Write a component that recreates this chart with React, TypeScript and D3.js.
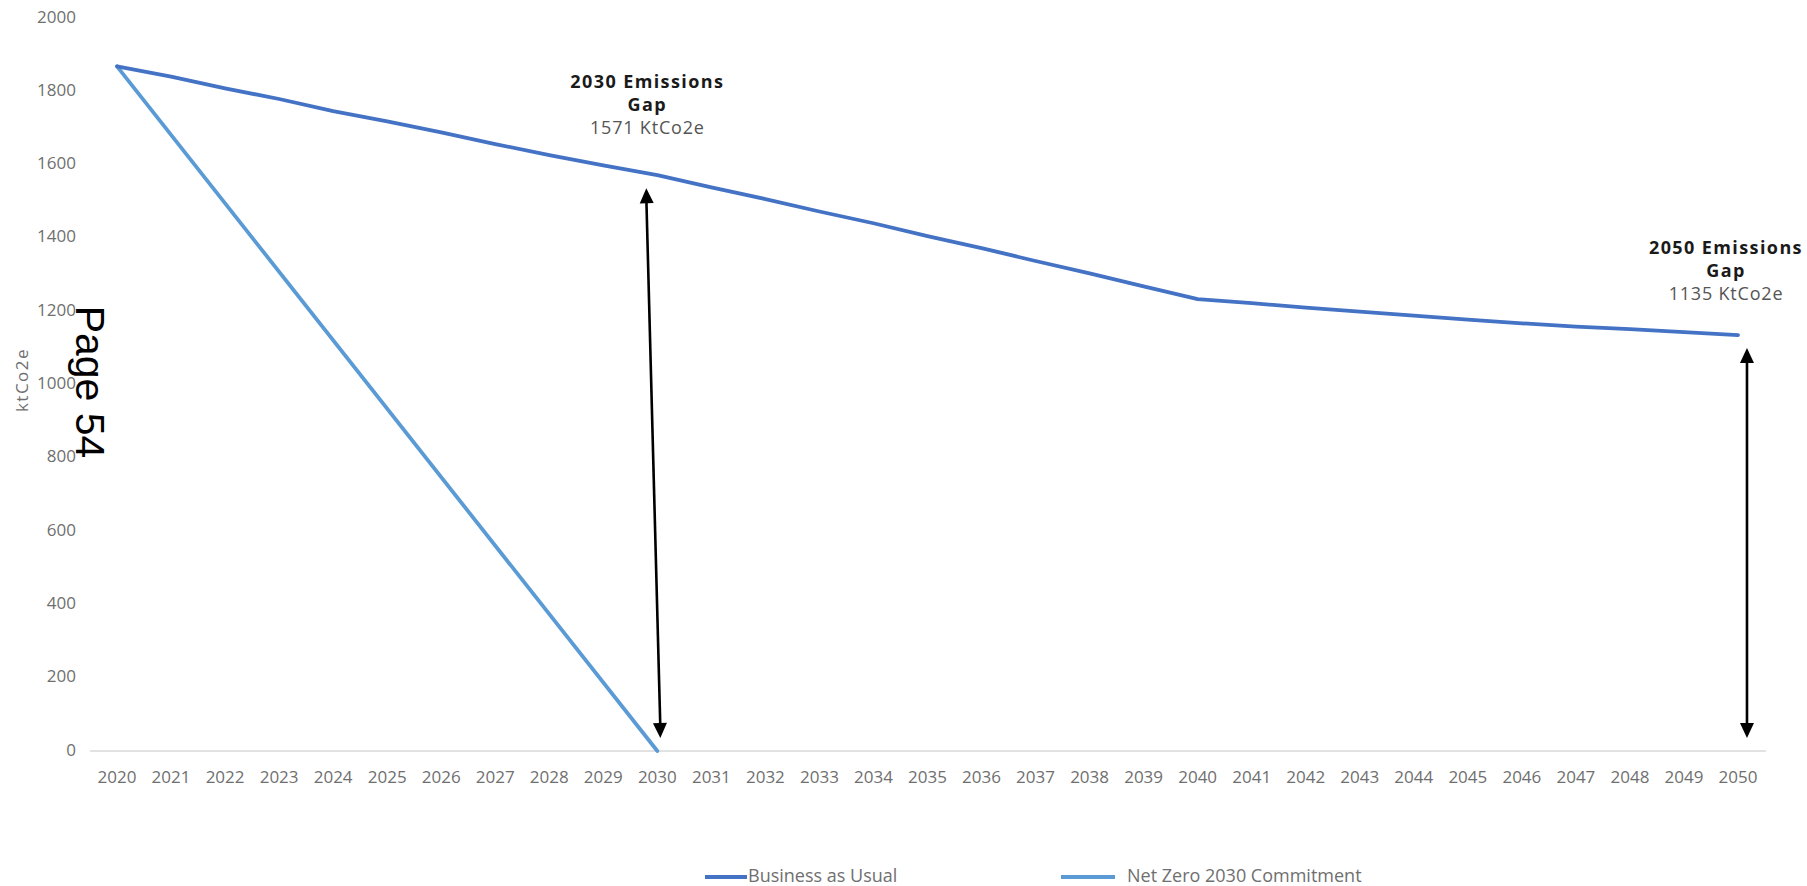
import React from "react";
import * as d3 from "d3";

// Emission trajectories, ktCO2e per year
const years: string[] = [
  "2020", "2021", "2022", "2023", "2024", "2025", "2026", "2027", "2028", "2029",
  "2030", "2031", "2032", "2033", "2034", "2035", "2036", "2037", "2038", "2039",
  "2040", "2041", "2042", "2043", "2044", "2045", "2046", "2047", "2048", "2049", "2050",
];

const businessAsUsual: number[] = [
  1868, 1840, 1808, 1779, 1746, 1718, 1688, 1656, 1626, 1598,
  1571, 1538, 1506, 1472, 1440, 1405, 1372, 1337, 1303, 1268,
  1233, 1222, 1210, 1199, 1188, 1177, 1167, 1158, 1151, 1143, 1135,
];

const netZeroYears: string[] = ["2020", "2030"];
const netZero: number[] = [1868, 0];

const yTicks: number[] = [0, 200, 400, 600, 800, 1000, 1200, 1400, 1600, 1800, 2000];

// Gap annotations: year, upper value, lower value
const gapYears: string[] = ["2030", "2050"];
const gapValues: number[] = [1571, 1135];
const gapTitles: string[] = ["2030 Emissions", "2050 Emissions"];

const W = 1807;
const H = 886;
const FONT = "'Open Sans', 'DejaVu Sans', sans-serif";
const BAU_COLOR = "#4472c4";
const NZ_COLOR = "#5b9bd5";

export default function App() {
  const x = d3.scalePoint<string>().domain(years).range([90, 1765]).padding(0.5);
  const y = d3.scaleLinear().domain([0, 2000]).range([751, 18]);

  const line = d3
    .line<[string, number]>()
    .x((d) => x(d[0]) as number)
    .y((d) => y(d[1]));

  const bauPath = line(years.map((yr, i) => [yr, businessAsUsual[i]] as [string, number]));
  const nzPath = line(netZeroYears.map((yr, i) => [yr, netZero[i]] as [string, number]));

  const arrowHead = (tipX: number, tipY: number, dir: number, angle = 0) => {
    const len = 15;
    const half = 7;
    const pts = [
      [0, 0],
      [-half, dir * len],
      [half, dir * len],
    ];
    return (
      <polygon
        points={pts.map((p) => p.join(",")).join(" ")}
        transform={`translate(${tipX},${tipY}) rotate(${angle})`}
        fill="#000"
      />
    );
  };

  return (
    <svg
      width={W}
      height={H}
      style={{ position: "absolute", left: 0, top: 0, display: "block", background: "#fff" }}
    >
      {/* y axis tick labels */}
      {yTicks.map((t) => (
        <text
          key={t}
          x={76}
          y={y(t)}
          textAnchor="end"
          dominantBaseline="middle"
          fontFamily={FONT}
          fontSize={17}
          fill="#6f6f6f"
        >
          {t}
        </text>
      ))}

      {/* y axis title */}
      <text
        transform={`translate(28,380) rotate(-90)`}
        textAnchor="middle"
        fontFamily={FONT}
        fontSize={17}
        letterSpacing={1.5}
        fill="#6f6f6f"
      >
        ktCo2e
      </text>

      {/* baseline */}
      <line x1={90} x2={1766} y1={y(0)} y2={y(0)} stroke="#d9d9d9" strokeWidth={1.5} />

      {/* x axis tick labels */}
      {years.map((yr) => (
        <text
          key={yr}
          x={x(yr) as number}
          y={778}
          textAnchor="middle"
          dominantBaseline="middle"
          fontFamily={FONT}
          fontSize={17}
          fill="#6f6f6f"
        >
          {yr}
        </text>
      ))}

      {/* series */}
      <path d={nzPath || ""} fill="none" stroke={NZ_COLOR} strokeWidth={3.8} strokeLinecap="round" />
      <path d={bauPath || ""} fill="none" stroke={BAU_COLOR} strokeWidth={3.8} strokeLinecap="round" strokeLinejoin="round" />

      {/* gap arrows */}
      {gapYears.map((yr, i) => {
        const cx = x(yr) as number;
        const tilt = i === 0 ? [-11, 3] : [9, 9];
        const topX = cx + tilt[0];
        const botX = cx + tilt[1];
        const topY = y(gapValues[i]) + 13;
        const botY = y(0) - 13;
        const ang = (Math.atan2(botX - topX, botY - topY) * 180) / Math.PI;
        return (
          <g key={yr}>
            <line x1={topX} y1={topY + 10} x2={botX} y2={botY - 10} stroke="#000" strokeWidth={2.6} />
            {arrowHead(topX, topY, 1, -ang)}
            {arrowHead(botX, botY, -1, -ang)}
          </g>
        );
      })}

      {/* gap labels */}
      {gapYears.map((yr, i) => {
        const cx = i === 0 ? (x(yr) as number) - 10 : (x(yr) as number) - 12;
        const top = i === 0 ? 88 : 254;
        return (
          <g key={"lbl" + yr} fontFamily={FONT} textAnchor="middle">
            <text x={cx} y={top} fontSize={18} fontWeight={700} letterSpacing={1.4} fill="#1a1a1a">
              {gapTitles[i]}
            </text>
            <text x={cx} y={top + 23} fontSize={18} fontWeight={700} letterSpacing={1.4} fill="#1a1a1a">
              Gap
            </text>
            <text x={cx} y={top + 46} fontSize={18} letterSpacing={0.8} fill="#555">
              {gapValues[i]} KtCo2e
            </text>
          </g>
        );
      })}

      {/* legend */}
      <line x1={705} x2={747} y1={877} y2={877} stroke={BAU_COLOR} strokeWidth={4} />
      <text x={748} y={877} dominantBaseline="middle" fontFamily={FONT} fontSize={18} fill="#6f6f6f">
        Business as Usual
      </text>
      <line x1={1061} x2={1115} y1={877} y2={877} stroke={NZ_COLOR} strokeWidth={4} />
      <text x={1127} y={877} dominantBaseline="middle" fontFamily={FONT} fontSize={18} fill="#6f6f6f">
        Net Zero 2030 Commitment
      </text>

      {/* page marker */}
      <text
        transform={`translate(76,382) rotate(90)`}
        textAnchor="middle"
        fontFamily="'Liberation Sans', Arial, sans-serif"
        fontSize={41}
        fill="#000"
      >
        Page 54
      </text>
    </svg>
  );
}
